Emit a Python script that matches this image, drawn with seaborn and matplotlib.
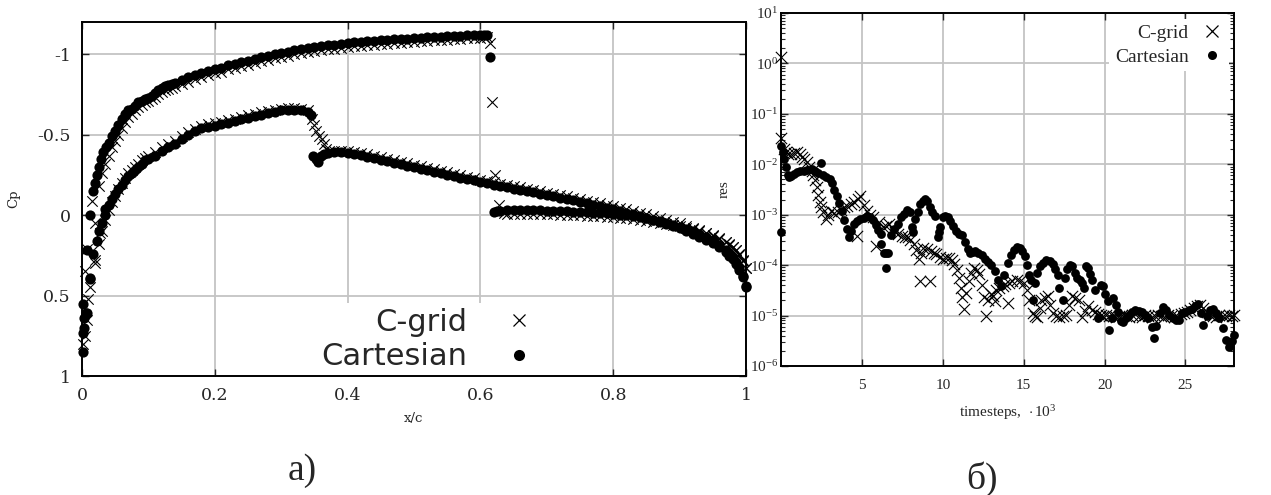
import numpy as np
import matplotlib
matplotlib.use("Agg")
import matplotlib.pyplot as plt
import seaborn as sns
from matplotlib.lines import Line2D
from matplotlib.ticker import LogLocator, NullFormatter

# ---------------- panel а): pressure coefficient over x/c ----------------
cart_up_x = [
    0.001, 0.002, 0.003, 0.006, 0.002, 0.012, 0.008, 0.012, 0.017, 0.020,
    0.023, 0.026, 0.028, 0.032, 0.036, 0.040, 0.045, 0.050, 0.055, 0.060,
    0.065, 0.070, 0.075, 0.080, 0.085, 0.090, 0.095, 0.100, 0.105, 0.110,
    0.115, 0.120, 0.125, 0.130, 0.135, 0.140, 0.150, 0.160, 0.170, 0.180,
    0.190, 0.200, 0.210, 0.220, 0.230, 0.240, 0.250, 0.260, 0.270, 0.280,
    0.290, 0.300, 0.310, 0.320, 0.330, 0.340, 0.350, 0.360, 0.370, 0.380,
    0.390, 0.400, 0.410, 0.420, 0.430, 0.440, 0.450, 0.460, 0.470, 0.480,
    0.490, 0.500, 0.510, 0.520, 0.530, 0.540, 0.550, 0.560, 0.570, 0.580,
    0.590, 0.600, 0.605, 0.610, 0.615, 0.620, 0.625, 0.630, 0.640, 0.650,
    0.660, 0.670, 0.680, 0.690, 0.700, 0.710, 0.720, 0.730, 0.740, 0.750,
    0.760, 0.770, 0.780, 0.790, 0.800, 0.810, 0.820, 0.830, 0.840, 0.850,
    0.860, 0.870, 0.880, 0.890, 0.900, 0.910, 0.920, 0.930, 0.940, 0.950,
    0.960, 0.970, 0.975, 0.980, 0.985, 0.990, 0.995, 1.000]
cart_up_cp = [
    0.85, 0.73, 0.64, 0.61, 0.55, 0.40, 0.22, 0.00, -0.15, -0.20,
    -0.25, -0.30, -0.35, -0.39, -0.42, -0.45, -0.49, -0.52, -0.56, -0.60,
    -0.63, -0.65, -0.66, -0.68, -0.70, -0.71, -0.72, -0.73, -0.74, -0.76,
    -0.78, -0.79, -0.80, -0.81, -0.815, -0.82, -0.84, -0.855, -0.87, -0.885,
    -0.895, -0.905, -0.915, -0.93, -0.94, -0.95, -0.96, -0.97, -0.98, -0.99,
    -1.00, -1.01, -1.015, -1.025, -1.03, -1.04, -1.045, -1.05, -1.055, -1.06,
    -1.065, -1.07, -1.073, -1.076, -1.08, -1.083, -1.086, -1.089, -1.092, -1.095,
    -1.097, -1.10, -1.102, -1.104, -1.106, -1.108, -1.11, -1.112, -1.114, -1.116,
    -1.118, -1.12, -1.12, -1.12, -0.98, -0.02, -0.025, -0.028, -0.03, -0.03,
    -0.03, -0.03, -0.03, -0.029, -0.028, -0.027, -0.025, -0.023, -0.021, -0.019,
    -0.017, -0.015, -0.013, -0.010, -0.007, -0.003, 0.002, 0.008, 0.014, 0.021,
    0.029, 0.038, 0.048, 0.059, 0.071, 0.084, 0.099, 0.116, 0.135, 0.157,
    0.183, 0.215, 0.235, 0.26, 0.29, 0.33, 0.38, 0.45]

cart_lo_x = [
    0.003, 0.007, 0.012, 0.017, 0.022, 0.026, 0.030, 0.034, 0.035, 0.040,
    0.045, 0.050, 0.055, 0.060, 0.065, 0.070, 0.075, 0.080, 0.085, 0.090,
    0.095, 0.100, 0.110, 0.120, 0.130, 0.140, 0.150, 0.160, 0.170, 0.180,
    0.190, 0.200, 0.210, 0.220, 0.230, 0.240, 0.250, 0.260, 0.270, 0.280,
    0.290, 0.300, 0.310, 0.320, 0.330, 0.340, 0.345, 0.348, 0.352, 0.356,
    0.360, 0.365, 0.370, 0.380, 0.390, 0.400, 0.410, 0.420, 0.430, 0.440,
    0.450, 0.460, 0.470, 0.480, 0.490, 0.500, 0.510, 0.520, 0.530, 0.540,
    0.550, 0.560, 0.570, 0.580, 0.590, 0.600, 0.610, 0.620, 0.630, 0.640,
    0.650, 0.660, 0.670, 0.680, 0.690, 0.700, 0.710, 0.720, 0.730, 0.740,
    0.750, 0.760, 0.770, 0.780, 0.790, 0.800, 0.810, 0.820, 0.830, 0.840,
    0.850, 0.860, 0.870, 0.880, 0.890, 0.900, 0.910, 0.920, 0.930, 0.940,
    0.950, 0.960, 0.970, 0.975, 0.980, 0.985, 0.990, 0.995, 1.000]
cart_lo_cp = [
    0.70, 0.61, 0.39, 0.24, 0.16, 0.10, 0.05, 0.00, -0.04, -0.06,
    -0.10, -0.13, -0.16, -0.19, -0.22, -0.24, -0.26, -0.28, -0.30, -0.32,
    -0.34, -0.35, -0.37, -0.40, -0.42, -0.44, -0.47, -0.50, -0.52, -0.54,
    -0.55, -0.555, -0.565, -0.575, -0.585, -0.595, -0.605, -0.615, -0.625, -0.632,
    -0.64, -0.65, -0.655, -0.655, -0.65, -0.64, -0.625, -0.37, -0.35, -0.33,
    -0.37, -0.38, -0.385, -0.39, -0.39, -0.387, -0.381, -0.372, -0.363, -0.354,
    -0.344, -0.335, -0.326, -0.317, -0.307, -0.298, -0.289, -0.28, -0.27, -0.261,
    -0.252, -0.243, -0.233, -0.224, -0.215, -0.205, -0.197, -0.189, -0.181, -0.173,
    -0.165, -0.157, -0.149, -0.141, -0.133, -0.125, -0.117, -0.109, -0.10, -0.092,
    -0.083, -0.074, -0.065, -0.056, -0.046, -0.036, -0.026, -0.016, -0.005, 0.006,
    0.017, 0.029, 0.041, 0.054, 0.068, 0.083, 0.099, 0.116, 0.134, 0.154,
    0.176, 0.201, 0.232, 0.252, 0.276, 0.305, 0.34, 0.385, 0.44]

cgrid_up_x = [
    0.002, 0.004, 0.007, 0.009, 0.0045, 0.007, 0.020, 0.020, 0.027, 0.015,
    0.025, 0.030, 0.035, 0.040, 0.045, 0.050, 0.055, 0.060, 0.065, 0.070,
    0.075, 0.080, 0.085, 0.090, 0.095, 0.100, 0.105, 0.110, 0.115, 0.120,
    0.125, 0.130, 0.135, 0.140, 0.150, 0.160, 0.170, 0.180, 0.190, 0.200,
    0.210, 0.220, 0.230, 0.240, 0.250, 0.260, 0.270, 0.280, 0.290, 0.300,
    0.310, 0.320, 0.330, 0.340, 0.350, 0.360, 0.370, 0.380, 0.390, 0.400,
    0.410, 0.420, 0.430, 0.440, 0.450, 0.460, 0.470, 0.480, 0.490, 0.500,
    0.510, 0.520, 0.530, 0.540, 0.550, 0.560, 0.570, 0.580, 0.590, 0.600,
    0.605, 0.610, 0.614, 0.617, 0.622, 0.628, 0.635, 0.640, 0.650, 0.660,
    0.670, 0.680, 0.690, 0.700, 0.710, 0.720, 0.730, 0.740, 0.750, 0.760,
    0.770, 0.780, 0.790, 0.800, 0.810, 0.820, 0.830, 0.840, 0.850, 0.860,
    0.870, 0.880, 0.890, 0.900, 0.910, 0.920, 0.930, 0.940, 0.950, 0.960,
    0.970, 0.975, 0.980, 0.985, 0.990, 0.995, 1.000]
cgrid_up_cp = [
    0.80, 0.75, 0.65, 0.52, 0.35, 0.21, 0.28, 0.05, 0.11, -0.09,
    -0.18, -0.26, -0.32, -0.37, -0.42, -0.46, -0.50, -0.54, -0.58, -0.61,
    -0.63, -0.65, -0.67, -0.685, -0.70, -0.71, -0.72, -0.735, -0.75, -0.765,
    -0.775, -0.785, -0.79, -0.80, -0.815, -0.83, -0.845, -0.86, -0.87, -0.88,
    -0.89, -0.905, -0.915, -0.925, -0.935, -0.945, -0.955, -0.965, -0.975, -0.985,
    -0.99, -1.0, -1.005, -1.015, -1.02, -1.025, -1.03, -1.035, -1.04, -1.045,
    -1.05, -1.053, -1.057, -1.06, -1.063, -1.066, -1.069, -1.072, -1.075, -1.078,
    -1.08, -1.083, -1.085, -1.088, -1.09, -1.093, -1.095, -1.098, -1.10, -1.103,
    -1.105, -1.105, -1.07, -0.70, -0.25, -0.06, -0.01, -0.008, -0.007, -0.006,
    -0.006, -0.006, -0.005, -0.005, -0.004, -0.003, -0.002, 0.0, 0.002, 0.004,
    0.006, 0.008, 0.011, 0.014, 0.017, 0.021, 0.025, 0.030, 0.035, 0.041,
    0.047, 0.054, 0.062, 0.07, 0.079, 0.089, 0.10, 0.112, 0.126, 0.142,
    0.165, 0.18, 0.198, 0.22, 0.25, 0.285, 0.33]

cgrid_lo_x = [
    0.012, 0.020, 0.025, 0.030, 0.035, 0.040, 0.045, 0.050, 0.055, 0.060,
    0.065, 0.070, 0.075, 0.080, 0.085, 0.090, 0.095, 0.100, 0.110, 0.120,
    0.130, 0.140, 0.150, 0.160, 0.170, 0.180, 0.190, 0.200, 0.210, 0.220,
    0.230, 0.240, 0.250, 0.260, 0.270, 0.280, 0.290, 0.300, 0.310, 0.320,
    0.330, 0.340, 0.346, 0.350, 0.353, 0.357, 0.361, 0.365, 0.368, 0.372,
    0.380, 0.390, 0.400, 0.410, 0.420, 0.430, 0.440, 0.450, 0.460, 0.470,
    0.480, 0.490, 0.500, 0.510, 0.520, 0.530, 0.540, 0.550, 0.560, 0.570,
    0.580, 0.590, 0.600, 0.610, 0.620, 0.630, 0.640, 0.650, 0.660, 0.670,
    0.680, 0.690, 0.700, 0.710, 0.720, 0.730, 0.740, 0.750, 0.760, 0.770,
    0.780, 0.790, 0.800, 0.810, 0.820, 0.830, 0.840, 0.850, 0.860, 0.870,
    0.880, 0.890, 0.900, 0.910, 0.920, 0.930, 0.940, 0.950, 0.960, 0.970,
    0.975, 0.980, 0.985, 0.990, 0.995, 1.000]
cgrid_lo_cp = [
    0.45, 0.30, 0.18, 0.10, 0.03, -0.03, -0.08, -0.12, -0.16, -0.20,
    -0.23, -0.26, -0.28, -0.30, -0.32, -0.34, -0.355, -0.37, -0.39, -0.42,
    -0.44, -0.46, -0.49, -0.515, -0.535, -0.555, -0.565, -0.57, -0.58, -0.59,
    -0.60, -0.61, -0.62, -0.63, -0.64, -0.648, -0.655, -0.66, -0.665, -0.665,
    -0.66, -0.65, -0.60, -0.56, -0.52, -0.49, -0.47, -0.44, -0.41, -0.40,
    -0.40, -0.40, -0.40, -0.395, -0.386, -0.377, -0.368, -0.358, -0.349, -0.34,
    -0.331, -0.321, -0.312, -0.303, -0.294, -0.284, -0.275, -0.266, -0.257, -0.247,
    -0.238, -0.229, -0.22, -0.212, -0.204, -0.196, -0.188, -0.18, -0.172, -0.164,
    -0.156, -0.148, -0.14, -0.132, -0.124, -0.116, -0.108, -0.099, -0.09, -0.081,
    -0.072, -0.063, -0.054, -0.045, -0.035, -0.025, -0.015, -0.005, 0.006, 0.017,
    0.028, 0.040, 0.052, 0.065, 0.079, 0.094, 0.11, 0.128, 0.148, 0.17,
    0.183, 0.198, 0.215, 0.24, 0.28, 0.33]

# ---------------- panel б): residual history ----------------
cart_t = [
    0.0, 0.0, 0.1, 0.2, 0.3, 0.4, 0.5, 0.6, 0.8, 1.0,
    1.2, 1.4, 1.6, 1.9, 2.1, 2.3, 2.45, 2.6, 2.8, 3.0,
    3.15, 3.3, 3.45, 3.6, 3.75, 3.9, 4.05, 4.2, 4.35, 4.5,
    4.7, 4.9, 5.1, 5.3, 5.5, 5.7, 5.85, 6.0, 6.2, 6.2,
    6.35, 6.5, 6.6, 6.5, 6.8, 7.0, 7.2, 7.4, 7.6, 7.8,
    8.0, 8.1, 8.15, 8.3, 8.45, 8.6, 8.75, 8.9, 9.05, 9.2,
    9.35, 9.5, 9.7, 9.75, 9.85, 10.0, 10.15, 10.3, 10.45, 10.6,
    10.8, 11.0, 11.2, 11.4, 11.55, 11.7, 11.85, 12.0, 12.2, 12.4,
    12.6, 12.8, 13.0, 13.2, 13.4, 13.6, 13.8, 14.0, 14.2, 14.4,
    14.6, 14.75, 14.9, 15.05, 15.2, 15.35, 15.45, 15.55, 15.7, 15.85,
    16.0, 16.2, 16.4, 16.6, 16.8, 16.95, 17.1, 17.2, 17.4, 17.55,
    17.7, 17.85, 18.0, 18.15, 18.3, 18.5, 18.6, 18.7, 18.85, 18.95,
    19.1, 19.25, 19.4, 19.6, 19.75, 19.9, 20.05, 20.2, 20.3, 20.45,
    20.55, 20.7, 20.85, 21.0, 21.15, 21.3, 21.5, 21.7, 21.9, 22.1,
    22.3, 22.5, 22.7, 22.9, 23.05, 23.2, 23.4, 23.6, 23.8, 24.0,
    24.2, 24.4, 24.6, 24.8, 25.0, 25.2, 25.4, 25.6, 25.8, 25.95,
    26.1, 26.3, 26.5, 26.7, 26.9, 27.1, 27.3, 27.5, 27.7, 27.85,
    28.0]
cart_log_res = [
    -3.35, -1.63, -1.75, -1.89, -2.05, -2.22, -2.26, -2.24, -2.19, -2.16,
    -2.14, -2.13, -2.12, -2.10, -2.14, -2.18, -1.98, -2.22, -2.25, -2.29,
    -2.38, -2.50, -2.62, -2.77, -2.93, -3.10, -3.28, -3.45, -3.32, -3.19,
    -3.12, -3.09, -3.07, -3.03, -3.04, -3.10, -3.20, -3.30, -3.38, -3.58,
    -3.75, -3.75, -3.75, -4.05, -3.40, -3.28, -3.18, -3.05, -2.98, -2.90,
    -2.95, -3.25, -3.35, -3.08, -2.95, -2.79, -2.72, -2.69, -2.72, -2.85,
    -2.95, -3.02, -3.45, -3.35, -3.25, -3.05, -3.02, -3.05, -3.12, -3.22,
    -3.33, -3.38, -3.40, -3.55, -3.68, -3.75, -3.73, -3.72, -3.75, -3.80,
    -3.87, -3.93, -4.00, -4.12, -4.30, -4.42, -4.20, -3.96, -3.80, -3.70,
    -3.64, -3.65, -3.72, -3.82, -4.00, -4.20, -4.30, -4.69, -4.35, -4.16,
    -4.02, -3.95, -3.90, -3.92, -3.98, -4.08, -4.20, -4.46, -4.69, -4.25,
    -4.08, -4.00, -4.02, -4.15, -4.25, -4.30, -4.35, -4.46, -4.02, -4.05,
    -4.18, -4.30, -4.49, -5.05, -4.40, -4.42, -4.58, -4.72, -5.28, -5.05,
    -4.66, -4.80, -4.92, -5.10, -5.12, -5.05, -4.99, -4.93, -4.89, -4.90,
    -4.92, -4.98, -5.05, -5.22, -5.45, -5.20, -4.95, -4.83, -4.88, -4.98,
    -5.05, -5.08, -5.08, -4.95, -4.92, -4.89, -4.86, -4.82, -4.78, -4.95,
    -5.19, -5.00, -4.89, -4.87, -4.95, -5.05, -5.25, -5.49, -5.62, -5.50,
    -5.39]

cgrid_t = [
    0.0, 0.02, 0.2, 0.3, 0.45, 0.6, 0.8, 1.0, 1.15, 1.3,
    1.45, 1.6, 1.75, 1.9, 2.0, 2.1, 2.2, 2.3, 2.4, 2.5,
    2.6, 2.75, 2.9, 3.1, 3.3, 3.5, 3.7, 3.9, 4.1, 4.3,
    4.5, 4.7, 4.75, 4.9, 5.1, 5.3, 5.5, 5.7, 5.9, 6.05,
    6.3, 6.5, 6.7, 6.9, 7.05, 7.25, 7.45, 7.65, 7.85, 8.0,
    8.2, 8.35, 8.5, 8.6, 8.65, 8.8, 9.0, 9.2, 9.25, 9.45,
    9.6, 9.8, 10.0, 10.2, 10.4, 10.55, 10.7, 10.85, 11.0, 11.1,
    11.2, 11.3, 11.45, 11.6, 11.75, 11.9, 12.1, 12.25, 12.4, 12.55,
    12.65, 12.8, 12.95, 13.1, 13.2, 13.3, 13.5, 13.7, 13.85, 14.0,
    14.1, 14.3, 14.6, 14.8, 15.0, 15.2, 15.35, 15.55, 15.7, 15.85,
    16.0, 16.1, 16.3, 16.5, 16.65, 16.8, 17.0, 17.2, 17.4, 17.6,
    17.8, 18.0, 18.2, 18.4, 18.6, 18.8, 19.0, 19.2, 19.4, 19.6,
    19.75, 19.9, 20.1, 20.3, 20.5, 20.7, 20.9, 21.1, 21.3, 21.5,
    21.7, 21.9, 22.1, 22.3, 22.5, 22.7, 22.9, 23.1, 23.3, 23.5,
    23.7, 23.9, 24.1, 24.3, 24.5, 24.7, 24.9, 25.1, 25.3, 25.5,
    25.7, 25.9, 26.1, 26.3, 26.5, 26.7, 26.9, 27.1, 27.3, 27.5,
    27.7, 27.9, 28.0]
cgrid_log_res = [
    0.13, -1.48, -1.70, -1.76, -1.80, -1.79, -1.77, -1.76, -1.80, -1.86,
    -1.90, -1.96, -2.05, -2.13, -2.22, -2.32, -2.45, -2.60, -2.75, -2.85,
    -2.95, -3.09, -3.00, -2.92, -2.97, -2.95, -2.90, -2.85, -2.82, -2.79,
    -2.74, -3.42, -2.68, -2.62, -2.80, -2.92, -3.00, -3.05, -3.62, -3.15,
    -3.25, -3.22, -3.19, -3.28, -3.35, -3.38, -3.42, -3.44, -3.45, -3.50,
    -3.58, -3.70, -3.88, -4.31, -3.75, -3.65, -3.68, -4.31, -3.72, -3.75,
    -3.78, -3.83, -3.88, -3.86, -3.85, -3.90, -3.98, -4.10, -4.25, -4.45,
    -4.64, -4.87, -4.55, -4.31, -4.15, -4.05, -4.10, -4.18, -4.40, -4.64,
    -5.00, -4.70, -4.58, -4.62, -4.71, -4.49, -4.45, -4.42, -4.38, -4.75,
    -4.36, -4.32, -4.29, -4.32, -4.36, -4.50, -4.69, -4.95, -5.00, -5.02,
    -4.85, -4.69, -4.65, -4.62, -4.80, -4.95, -5.00, -5.02, -5.00, -4.99,
    -4.80, -4.62, -4.65, -4.69, -5.02, -4.90, -4.82, -4.88, -4.92, -4.96,
    -4.99, -5.00, -4.99, -5.00, -5.01, -5.02, -5.00, -4.98, -5.00, -5.02,
    -4.99, -4.97, -5.00, -5.02, -4.98, -5.00, -5.03, -5.00, -4.98, -5.00,
    -5.02, -4.99, -5.00, -5.03, -5.00, -4.97, -4.95, -4.92, -4.88, -4.85,
    -4.82, -4.80, -4.85, -4.93, -4.98, -5.00, -5.02, -4.99, -5.00, -5.00,
    -4.98, -5.00, -4.99]

series_labels = ["C-grid", "Cartesian"]
xc_ticks = [0, 0.2, 0.4, 0.6, 0.8, 1]
xc_tick_labels = ["0", "0.2", "0.4", "0.6", "0.8", "1"]
cp_ticks = [-1, -0.5, 0, 0.5, 1]
cp_tick_labels = ["-1", "-0.5", "0", "0.5", "1"]
t_ticks = [5, 10, 15, 20, 25]
res_exponents = [-6, -5, -4, -3, -2, -1, 0, 1]

# ---------------- style ----------------
sns.set_style("ticks")
plt.rcParams.update({
    "axes.unicode_minus": False,
    "mathtext.fontset": "custom",
    "mathtext.rm": "Liberation Serif",
    "mathtext.it": "Liberation Serif:italic",
    "mathtext.bf": "Liberation Serif:bold",
    "axes.edgecolor": "black",
})
plt.rcParams["font.family"] = ["DejaVu Serif", "DejaVu Sans"]

GRID = "#c4c4c4"
fig = plt.figure(figsize=(12.71, 4.95), dpi=100)
ax1 = fig.add_axes([0.0645, 0.2404, 0.5224, 0.7152])
ax2 = fig.add_axes([0.6145, 0.2606, 0.3564, 0.7131])

# ---- panel а ----
for xs, ys in [(cgrid_up_x, cgrid_up_cp), (cgrid_lo_x, cgrid_lo_cp)]:
    sns.scatterplot(x=xs, y=ys, marker="x", color="black", s=56,
                    linewidth=0.8, ax=ax1, clip_on=False, zorder=3)
for xs, ys in [(cart_up_x, cart_up_cp), (cart_lo_x, cart_lo_cp)]:
    sns.scatterplot(x=xs, y=ys, marker="o", color="black", s=54,
                    linewidth=0, ax=ax1, clip_on=False, zorder=4)

ax1.set_xlim(0, 1)
ax1.set_ylim(1, -1.2)
ax1.set_xticks(xc_ticks)
ax1.set_xticklabels(xc_tick_labels)
ax1.set_yticks(cp_ticks)
ax1.set_yticklabels(cp_tick_labels)
ax1.tick_params(direction="in", top=True, right=True, length=5, width=1,
                labelsize=12.5, pad=8)
for lab in ax1.get_xticklabels() + ax1.get_yticklabels():
    lab.set_fontfamily("DejaVu Serif")
ax1.grid(True, color=GRID, lw=1.3)
ax1.set_axisbelow(True)
for sp in ax1.spines.values():
    sp.set_linewidth(1.4)
    sp.set_color("black")
    sp.set_zorder(12)
ax1.set_xlabel("x/c", fontsize=9.5, fontfamily="DejaVu Serif")
ax1.xaxis.set_label_coords(0.5, -0.102)
ax1.set_ylabel("Cp", fontsize=9.5, fontfamily="DejaVu Serif")
ax1.yaxis.set_label_coords(-0.093, 0.5)

h_x = Line2D([], [], ls="", marker="x", color="black", ms=9, mew=0.9)
h_o = Line2D([], [], ls="", marker="o", color="black", ms=8, mew=0)
leg1 = ax1.legend([h_x, h_o], series_labels, loc="lower right",
                  bbox_to_anchor=(0.711, 0.0), markerfirst=False,
                  frameon=True, fancybox=False, framealpha=1,
                  facecolor="white", edgecolor="none",
                  prop={"family": "DejaVu Sans", "size": 22},
                  handlelength=2.0, handletextpad=0.7, labelspacing=0.18,
                  borderpad=0.15, borderaxespad=0)
leg1.set_zorder(10)

# ---- panel б ----
sns.scatterplot(x=cgrid_t, y=10.0 ** np.array(cgrid_log_res), marker="x",
                color="black", s=66, linewidth=0.8, ax=ax2, clip_on=False, zorder=3)
sns.scatterplot(x=cart_t, y=10.0 ** np.array(cart_log_res), marker="o",
                color="black", s=40, linewidth=0, ax=ax2, clip_on=False, zorder=4)
ax2.set_yscale("log")
ax2.set_xlim(0, 28)
ax2.set_ylim(1e-6, 10)
ax2.set_xticks(t_ticks)
ax2.set_xticklabels([str(t) for t in t_ticks])
ax2.set_yticks([10.0 ** e for e in res_exponents])
ax2.set_yticklabels([r"$\mathregular{10^{%d}}$" % e for e in res_exponents])
ax2.yaxis.set_minor_locator(LogLocator(base=10, subs=np.arange(2, 10), numticks=20))
ax2.yaxis.set_minor_formatter(NullFormatter())
ax2.tick_params(which="major", direction="in", top=True, right=True, length=5, width=1)
ax2.tick_params(which="minor", direction="in", left=True, right=True, length=3, width=0.8)
ax2.tick_params(axis="y", which="major", labelsize=11, pad=2)
ax2.tick_params(axis="x", which="major", labelsize=11, pad=9)
for lab in ax2.get_xticklabels() + ax2.get_yticklabels():
    lab.set_fontfamily("Liberation Serif")
ax2.grid(True, which="major", color=GRID, lw=1.3)
ax2.set_axisbelow(True)
for sp in ax2.spines.values():
    sp.set_linewidth(1.4)
    sp.set_color("black")
    sp.set_zorder(12)
ax2.set_xlabel(r"timesteps,  $\cdot\,\mathregular{10^{3}}$", fontsize=11,
               fontfamily="Liberation Serif", labelpad=8)
ax2.set_ylabel("res", fontsize=11, fontfamily="Liberation Serif", labelpad=14)

h_x2 = Line2D([], [], ls="", marker="x", color="black", ms=8, mew=0.9)
h_o2 = Line2D([], [], ls="", marker="o", color="black", ms=6.5, mew=0)
leg2 = ax2.legend([h_x2, h_o2], series_labels, loc="upper right",
                  bbox_to_anchor=(0.99, 0.984), markerfirst=False,
                  frameon=True, fancybox=False, framealpha=1,
                  facecolor="white", edgecolor="none",
                  prop={"family": "Liberation Serif", "size": 14},
                  handlelength=1.2, handletextpad=0.6, labelspacing=0.3,
                  borderpad=0.3, borderaxespad=0)
leg2.set_zorder(10)

# ---- panel captions ----
fig.text(302 / 1271, 1 - 471 / 495, "а)", fontsize=27, family="Liberation Serif",
         ha="center", va="center")
fig.text(982 / 1271, 1 - 479 / 495, "б)", fontsize=27, family="Liberation Serif",
         ha="center", va="center")

fig.savefig("out.png", dpi=100)
